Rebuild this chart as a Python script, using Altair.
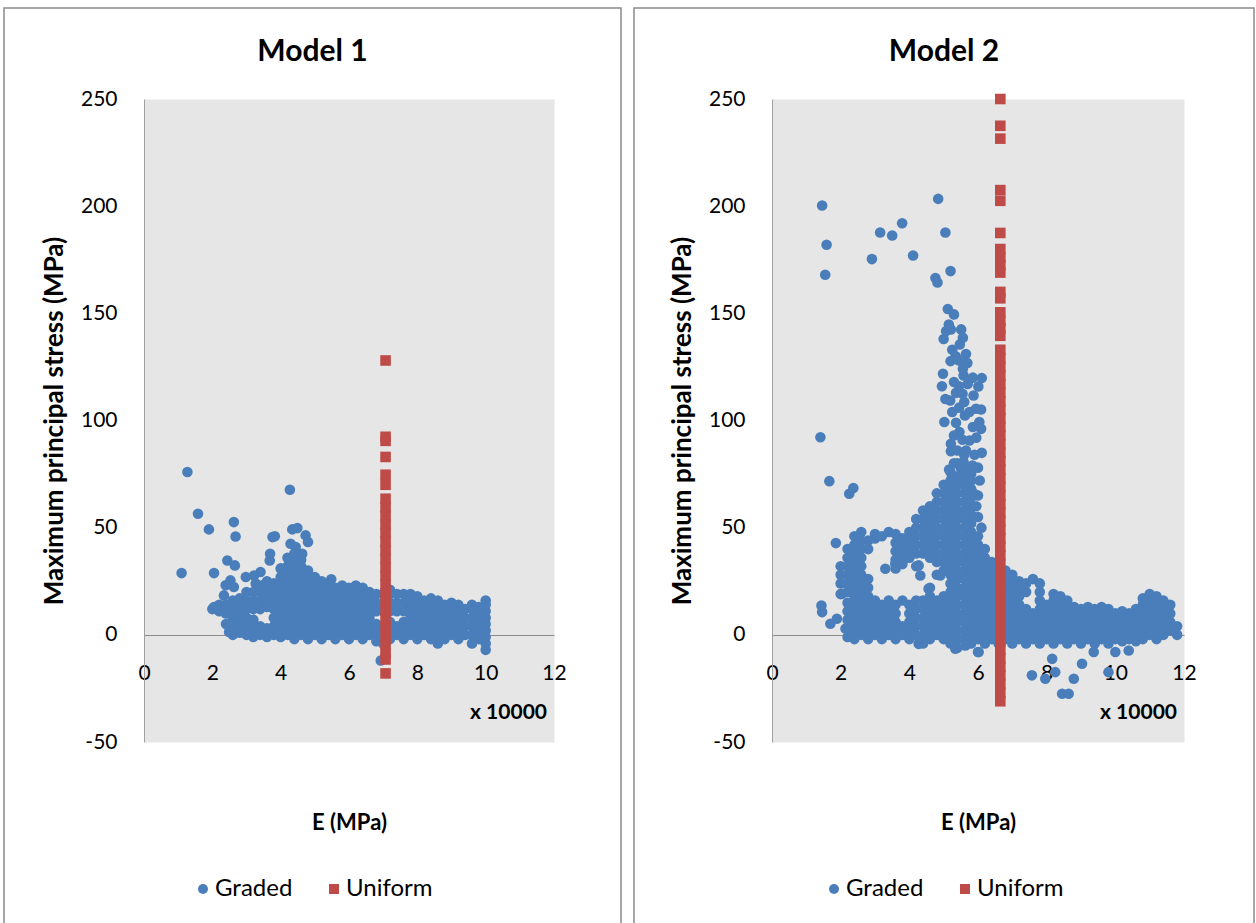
import altair as alt
import pandas as pd

BLUE = "#4A7EBB"
RED = "#BE4B48"
SERIES = ["Graded", "Uniform"]
FONT = "Lato"
PLOT_BG = "#E6E6E6"

x_ticks = [0, 2, 4, 6, 8, 10, 12]
y_ticks = [-50, 0, 50, 100, 150, 200, 250]

# ---------------- Model 1 ----------------
# dense cloud of the graded model: E (x 10000 MPa) -> stress values (MPa)
m1_cloud = {
    2.0: [12],
    2.2: [11, 14],
    2.4: [5, 10, 14],
    2.6: [0, 4, 8, 12, 16],
    2.8: [1, 5, 9, 13, 17],
    3.0: [0, 4, 8, 12, 16, 20],
    3.2: [-1, 3, 7, 12, 16, 20],
    3.4: [0, 4, 12, 16, 20],
    3.6: [-1, 3, 13, 17, 21, 25],
    3.8: [0, 4, 8, 12, 16, 20, 24],
    4.0: [-1, 3, 7, 11, 15, 19, 23, 27, 31],
    4.2: [0, 4, 8, 12, 16, 20, 24, 28, 32, 36],
    4.4: [-2, 2, 6, 10, 14, 18, 22, 26, 30, 34, 38],
    4.6: [0, 4, 8, 12, 16, 20, 24, 28, 32, 35],
    4.8: [-2, 2, 6, 10, 14, 18, 22, 26, 30],
    5.0: [0, 4, 8, 12, 16, 20, 24, 27],
    5.2: [-2, 2, 6, 10, 14, 18, 22, 25],
    5.4: [0, 4, 8, 12, 16, 20, 23],
    5.6: [-2, 2, 6, 10, 14, 18, 22],
    5.8: [0, 4, 8, 12, 16, 20, 23],
    6.0: [-2, 2, 6, 10, 14, 18, 22],
    6.2: [0, 4, 8, 12, 16, 20, 23],
    6.4: [-2, 2, 6, 10, 14, 18, 22],
    6.6: [0, 4, 8, 12, 16, 20],
    6.8: [-3, 1, 5, 11, 15, 19],
    7.0: [-4, 0, 4, 11, 15, 19],
    7.2: [-2, 2, 6, 11, 15, 19, 21],
    7.4: [0, 4, 11, 15, 19],
    7.6: [-2, 2, 6, 11, 15, 19],
    7.8: [0, 4, 8, 12, 16, 19],
    8.0: [-2, 2, 6, 10, 14, 18],
    8.2: [0, 4, 8, 12, 16],
    8.4: [-2, 2, 6, 10, 14, 17],
    8.6: [-4, 0, 4, 8, 12, 16],
    8.8: [-2, 2, 6, 10, 14],
    9.0: [0, 4, 8, 12, 15],
    9.2: [-2, 2, 6, 10, 14],
    9.4: [0, 4, 8, 12],
    9.6: [-4, 0, 4, 8, 12, 14],
    9.8: [-2, 2, 6, 10, 13],
    10.0: [-7, -4, -1, 2, 5, 8, 11, 14, 16],
}
m1_extra_x = [1.27, 4.27, 1.58, 1.90, 2.63, 2.68, 1.10, 2.05, 2.44, 2.66, 3.76, 3.83,
              3.69, 3.68, 4.34, 4.49, 4.73, 4.80, 4.29, 4.44, 4.63, 5.48, 2.98, 3.22,
              3.41, 3.46, 3.27, 2.39, 2.53, 2.63, 2.34, 2.49, 2.05, 2.20, 6.93]
m1_extra_y = [76.0, 67.7, 56.5, 49.2, 52.6, 45.9, 28.8, 28.8, 34.7, 32.4, 45.6, 46.0,
              37.8, 34.7, 49.2, 49.8, 46.4, 43.3, 42.5, 41.0, 37.8, 25.9, 27.0, 27.7,
              29.3, 23.1, 23.9, 23.1, 25.4, 22.3, 18.4, 1.3, 13.0, 13.7, -12.0]
m1_uniform_x = 7.07
m1_uniform_y = [128, 92.4, 90.5, 83, 74.7, 70, 63.5, 59.5, 55.5, 51.5, 47.5, 43.5,
                39.5, 35.5, 31.5, 27.5, 23.5, 19.5, 15.5, 11.5, 7.5, 3.5, -0.5, -4.5,
                -8.5, -11.5, -18]

# ---------------- Model 2 ----------------
m2_cloud = {
    2.0: [19, 24, 28, 32],
    2.2: [-1, 3, 7, 11, 15, 20, 24, 28, 32, 36, 40],
    2.4: [-2, 2, 6, 10, 14, 18, 22, 26, 30, 34, 38, 42, 46],
    2.6: [0, 4, 8, 12, 16, 20, 24, 28, 32, 36, 40, 44, 48],
    2.8: [-2, 2, 6, 10, 14, 18, 22, 26, 40, 44],
    3.0: [0, 4, 8, 12, 16, 45, 47],
    3.2: [-2, 2, 6, 10, 14, 46],
    3.4: [0, 4, 8, 12, 16, 48],
    3.6: [-2, 2, 6, 10, 14, 31, 35, 39, 43, 47],
    3.8: [0, 4, 16, 33, 37, 41, 45],
    4.0: [-2, 2, 6, 10, 14, 36, 40, 44, 48],
    4.2: [0, 4, 8, 12, 16, 32, 38, 42, 46, 50, 54],
    4.4: [-4, 0, 4, 8, 12, 16, 38, 42, 46, 50, 54, 58],
    4.6: [-2, 2, 6, 10, 14, 18, 22, 36, 40, 44, 48, 52, 56, 60],
    4.8: [0, 4, 8, 12, 16, 28, 34, 38, 42, 46, 50, 54, 58, 62, 66],
    5.0: [-2, 2, 6, 10, 14, 18, 30, 34, 38, 42, 46, 50, 54, 58, 62, 66, 70],
    5.2: [-4, 0, 4, 8, 12, 16, 20, 24, 28, 32, 36, 40, 44, 48, 52, 56, 60, 64, 68, 72, 76],
    5.4: [-6, -2, 2, 6, 10, 14, 18, 22, 26, 30, 34, 38, 42, 46, 50, 54, 58, 62, 66, 70, 74, 80],
    5.6: [-2, 2, 6, 10, 14, 18, 22, 26, 30, 34, 38, 42, 46, 50, 54, 58, 62, 66, 70, 74, 78, 84],
    5.8: [-4, 0, 4, 8, 12, 16, 20, 24, 28, 32, 36, 40, 44, 48, 52, 56, 60, 64, 68, 72],
    6.0: [-8, -2, 2, 6, 10, 14, 18, 22, 26, 30, 34, 38, 42, 46, 55, 65],
    6.2: [-4, 0, 4, 8, 12, 16, 20, 24, 28, 32, 36, 40],
    6.4: [-2, 2, 6, 10, 14, 18, 22, 26, 30, 34],
    6.6: [-4, 0, 4, 8, 12, 16, 20, 24, 28, 32],
    6.8: [-2, 2, 6, 10, 14, 18, 22, 26, 30],
    7.0: [-4, 0, 4, 8, 12, 16, 20, 24, 28],
    7.2: [-2, 2, 6, 10, 14, 18, 22, 25],
    7.4: [-4, 0, 4, 8, 12, 20, 24],
    7.6: [-2, 2, 6, 10, 26],
    7.8: [-4, 0, 4, 8, 12, 16, 20, 24],
    8.0: [-2, 2, 6, 10, 14],
    8.2: [-4, 0, 4, 8, 12, 16, 19],
    8.4: [-2, 2, 6, 10, 14, 18],
    8.6: [-4, 0, 4, 8, 12, 16],
    8.8: [-2, 2, 6, 10, 13],
    9.0: [-4, 0, 4, 8, 12],
    9.2: [-2, 2, 6, 10, 13],
    9.4: [-4, 0, 4, 8, 12],
    9.6: [-2, 2, 6, 10, 13],
    9.8: [-4, 0, 4, 8, 12],
    10.0: [-2, 2, 6, 10],
    10.2: [-3, 0, 4, 8, 11],
    10.4: [-2, 2, 6, 10],
    10.6: [-3, 0, 4, 8, 12],
    10.8: [-2, 2, 6, 10, 14, 17],
    11.0: [0, 4, 8, 12, 16, 19],
    11.2: [-2, 2, 6, 10, 14, 18],
    11.4: [0, 4, 8, 12, 16],
    11.6: [2, 6, 10, 14],
    11.8: [0, 4],
}
m2_extra_x = [1.46, 4.84, 3.79, 3.15, 3.50, 5.05, 1.59, 2.91, 4.11, 1.55, 5.20, 4.76,
              4.82, 5.30, 5.15, 5.07, 5.21, 5.51, 5.56, 5.47, 5.20, 5.69, 5.56, 4.98,
              5.58, 6.11, 6.01, 5.19, 5.36, 5.55, 5.60, 5.87, 5.94, 6.09, 5.02, 5.36,
              5.62, 6.04, 6.09, 5.46, 5.75, 5.21, 6.11, 5.21, 5.58, 5.84, 5.16, 5.36,
              5.70, 5.89, 5.11,
              5.25, 5.35, 5.45, 5.65, 5.30, 5.45, 5.70, 5.85, 5.25, 5.45, 5.75, 5.85,
              5.30, 5.55, 5.95, 5.40, 5.65, 5.90, 5.30, 5.50, 6.00, 5.25, 5.50, 5.80,
              6.05, 5.95, 6.10, 5.05, 4.95, 5.12, 5.00,
              1.41, 1.67, 2.25, 2.37, 1.86, 1.44, 1.46, 1.70, 1.89, 2.04, 2.14,
              7.57, 7.96, 8.16, 8.25, 8.45, 8.64, 8.79, 9.03, 9.37, 9.80, 10.00, 10.39,
              5.34, 6.02, 4.27, 5.63,
              4.27, 4.32, 4.56, 4.90, 3.30, 3.59]
m2_extra_y = [200.3, 203.4, 192.0, 187.7, 186.3, 187.7, 182.0, 175.3, 177.0, 168.0, 169.7, 166.5,
              164.4, 149.5, 144.8, 141.7, 142.5, 142.5, 138.6, 135.5, 127.7, 126.8, 124.1, 121.8,
              121.0, 119.8, 115.9, 109.3, 112.9, 112.5, 108.6, 111.7, 105.5, 105.1, 99.3, 98.9,
              102.3, 99.3, 96.1, 94.6, 90.7, 89.1, 84.9, 85.7, 80.6, 79.0, 77.1, 71.3,
              71.3, 65.8, 66.6,
              133.0, 130.0, 128.0, 131.0, 118.0, 116.0, 117.0, 120.0, 104.0, 106.0, 104.0, 97.0,
              93.0, 91.0, 92.0, 86.0, 86.0, 84.0, 80.0, 78.0, 78.0, 74.0, 73.0, 75.0,
              72.0, 60.0, 50.0, 110.0, 116.0, 152.0, 138.0,
              92.2, 71.7, 65.8, 68.5, 42.8, 13.7, 10.6, 5.2, 7.5, 19.2, 2.9,
              -18.9, -20.5, -11.2, -17.4, -27.5, -27.5, -20.5, -13.5, -8.0, -17.4, -8.0, -7.3,
              -6.5, -8.0, -4.2, -5.0,
              32.4, 27.7, 21.5, 27.7, 30.8, 33.0]
m2_uniform_x = 6.65
m2_uniform_y = [250, 237.5, 231.5, 207.5, 202.5, 187.5, 180, 176, 172.5, 169, 160, 157,
                150.5, 146.5, 143, 139.5, 133, 129, 125, 121, 117, 113, 109, 105, 101,
                97, 93, 89, 85, 81, 77, 73, 69, 65, 61, 57, 53, 49, 45, 41, 37, 33, 29,
                25, 21, 17, 13, 9, 5, 1, -3, -7, -11, -15, -19, -23, -27, -31]


def build(cloud, ex_x, ex_y, ux, uy):
    rows = []
    for xv, ys in cloud.items():
        for yv in ys:
            rows.append({"E": xv, "S": yv, "series": "Graded"})
    for xv, yv in zip(ex_x, ex_y):
        rows.append({"E": xv, "S": yv, "series": "Graded"})
    for yv in uy:
        rows.append({"E": ux, "S": yv, "series": "Uniform"})
    return pd.DataFrame(rows)


MINUS_FIX = "replace(datum.label, '\u2212', '-')"


def panel(df, title, w, h, fl, fr, legend_x):
    one = pd.DataFrame({"k": [0]})
    zero_off = -round(h * 50 / 300)
    leg = alt.Legend(title=None, orient="none", legendX=legend_x, legendY=h + 135,
                     direction="horizontal", labelFontSize=24, labelFont=FONT,
                     symbolSize=100, symbolStrokeWidth=0, columnPadding=29,
                     labelOffset=0, labelColor="#000000")
    frame = alt.Chart(one).mark_rect(fillOpacity=0, stroke="#8A8A8A", strokeWidth=1.5).encode(
        x=alt.value(-fl), x2=alt.value(w + fr), y=alt.value(-91), y2=alt.value(h + 200)
    )
    pts = alt.Chart(df).mark_point(filled=True, opacity=1, size=112, strokeWidth=0).encode(
        x=alt.X("E:Q", scale=alt.Scale(domain=[0, 12], nice=False, zero=False),
                axis=alt.Axis(values=x_ticks, title="E (MPa)", offset=zero_off,
                              grid=False, ticks=False, tickSize=0, labelPadding=27,
                              labelFlush=False, labelFontSize=21, labelFont=FONT,
                              labelColor="#000000", domainColor="#8C8C8C",
                              titleFontSize=22, titleFont=FONT, titleFontWeight="bold",
                              titleY=177, titleColor="#000000")),
        y=alt.Y("S:Q", scale=alt.Scale(domain=[-50, 250], nice=False, zero=False),
                axis=alt.Axis(values=y_ticks, title="Maximum principal stress (MPa)",
                              grid=False, ticks=False, tickSize=0, labelPadding=27,
                              labelFontSize=21, labelFont=FONT, labelColor="#000000",
                              labelExpr=MINUS_FIX,
                              domainColor="#A0A0A0", titleFontSize=26, titleFont=FONT,
                              titleFontWeight="bold", titlePadding=13,
                              titleColor="#000000")),
        color=alt.Color("series:N", scale=alt.Scale(domain=SERIES, range=[BLUE, RED]), legend=leg),
        shape=alt.Shape("series:N", scale=alt.Scale(domain=SERIES, range=["circle", "square"]), legend=leg),
    )
    unit = alt.Chart(one).mark_text(text="x 10000", align="right", baseline="middle",
                                    fontWeight="bold", fontSize=21, font=FONT,
                                    color="#000000").encode(
        x=alt.value(w - 7), y=alt.value(h - 29)
    )
    return alt.layer(frame, pts, unit).properties(
        width=w, height=h,
        view=alt.ViewBackground(fill=PLOT_BG, strokeOpacity=0),
        title=alt.TitleParams(title, fontSize=30, font=FONT, fontWeight="bold",
                              anchor="middle", frame="bounds", offset=-60,
                              color="#000000"),
    )


df1 = build(m1_cloud, m1_extra_x, m1_extra_y, m1_uniform_x, m1_uniform_y)
df2 = build(m2_cloud, m2_extra_x, m2_extra_y, m2_uniform_x, m2_uniform_y)

p1 = panel(df1, "Model 1", 410, 643, 140, 67, 47)
p2 = panel(df2, "Model 2", 412, 643, 138, 70, 50)

chart = alt.hconcat(p1, p2, spacing=11).resolve_scale(
    color="independent", shape="independent"
).resolve_legend(color="independent", shape="independent").properties(
    padding={"left": 3, "top": 7, "right": 0, "bottom": 0}
).configure_view(
    fill=PLOT_BG, strokeOpacity=0
).configure(background="#FFFFFF")

chart.save("out.html", embed_options={"renderer": "svg", "actions": False})
